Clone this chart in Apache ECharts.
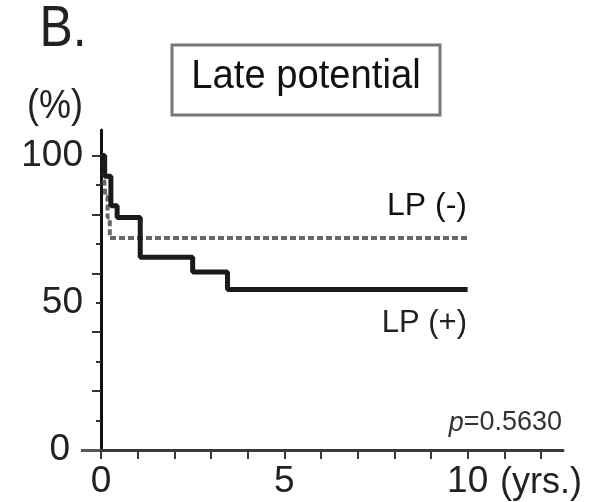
<!DOCTYPE html>
<html>
<head>
<meta charset="utf-8">
<script src="https://cdn.jsdelivr.net/npm/echarts@6/dist/echarts.min.js"></script>
<style>
html,body{margin:0;padding:0;background:#fff;}
#chart{width:595px;height:502px;}
</style>
</head>
<body>
<div id="chart"></div>
<script>
// Kaplan-Meier data
const lpPosTimes = [0, 0.1, 0.27, 0.44, 1.07, 2.5, 3.45, 10];
const lpPosSurvival = [100, 93, 83, 79, 65.5, 60.5, 54.5, 54.5];
const lpNegTimes = [0, 0.08, 0.12, 0.18, 0.24, 10];
const lpNegSurvival = [100, 93, 86, 79, 72, 72];

const xTickValues = [0, 1, 2, 3, 4, 5, 6, 7, 8, 9, 10, 11, 12];
const xLabelValues = [0, 5, 10];
const yMajorTicks = [20, 40, 60, 80, 100];
const yMinorTicks = [10, 30, 50, 70, 90];
const yLabelValues = [50, 100];
const yZero = [0];

const FONT = "'Liberation Sans', Arial, Helvetica, sans-serif";

const chart = echarts.init(document.getElementById('chart'), null, {renderer: 'canvas'});

const zip = (a, b) => a.map((v, i) => [v, b[i]]);

const yBase = {
  type: 'value', min: 0, max: 108.7, position: 'left',
  splitLine: {show: false}
};

chart.setOption({
  animation: false,
  backgroundColor: '#fff',
  grid: {left: 101, right: 32, top: 130, bottom: 52, containLabel: false},
  xAxis: {
    type: 'value', min: 0, max: 12.6,
    axisLine: {show: true, lineStyle: {color: '#3a3a3a', width: 3}},
    axisTick: {show: true, customValues: xTickValues, length: 9, lineStyle: {color: '#3a3a3a', width: 2}},
    axisLabel: {show: true, customValues: xLabelValues, margin: 13, fontSize: 37, color: '#222', fontFamily: FONT},
    splitLine: {show: false}
  },
  yAxis: [
    Object.assign({}, yBase, {
      axisLine: {show: true, lineStyle: {color: '#111', width: 3}},
      axisTick: {show: true, customValues: yMajorTicks, length: 9, lineStyle: {color: '#333', width: 2}},
      axisLabel: {show: true, customValues: yLabelValues, margin: 18, fontSize: 37, color: '#222', fontFamily: FONT}
    }),
    Object.assign({}, yBase, {
      axisLine: {show: false},
      axisTick: {show: true, customValues: yMinorTicks, length: 5, lineStyle: {color: '#333', width: 2}},
      axisLabel: {show: false}
    }),
    Object.assign({}, yBase, {
      axisLine: {show: false},
      axisTick: {show: true, customValues: yZero, length: 20, lineStyle: {color: '#555', width: 3}},
      axisLabel: {show: true, customValues: yZero, margin: 31, fontSize: 37, color: '#222', fontFamily: FONT}
    })
  ],
  graphic: [
    {type: 'rect', shape: {x: 172, y: 45, width: 268, height: 70},
     style: {fill: '#fff', stroke: '#777', lineWidth: 3}},
    {type: 'text', x: 306, y: 77, scaleX: 0.955,
     style: {text: 'Late potential', font: '40px ' + FONT, fill: '#111', align: 'center', verticalAlign: 'middle'}},
    {type: 'text', x: 63, y: 30, scaleX: 0.86,
     style: {text: 'B.', font: '58px ' + FONT, fill: '#222', align: 'center', verticalAlign: 'middle'}},
    {type: 'text', x: 55, y: 107, scaleX: 0.9,
     style: {text: '(%)', font: '40px ' + FONT, fill: '#222', align: 'center', verticalAlign: 'middle'}},
    {type: 'text', x: 467, y: 206,
     style: {text: 'LP (-)', font: '32px ' + FONT, fill: '#111', align: 'right', verticalAlign: 'middle'}},
    {type: 'text', x: 467, y: 323,
     style: {text: 'LP (+)', font: '31px ' + FONT, fill: '#222', align: 'right', verticalAlign: 'middle'}},
    {type: 'text', x: 562, y: 423,
     style: {text: '{i|p}=0.5630', rich: {i: {font: 'italic 27px ' + FONT, fill: '#333'}}, font: '27px ' + FONT, fill: '#333', align: 'right', verticalAlign: 'middle'}},
    {type: 'text', x: 500, y: 483,
     style: {text: '(yrs.)', font: '36px ' + FONT, fill: '#222', align: 'left', verticalAlign: 'middle'}}
  ],
  series: [
    {
      name: 'LP (-)', type: 'line', step: 'end', yAxisIndex: 0,
      data: zip(lpNegTimes, lpNegSurvival), showSymbol: false,
      lineStyle: {color: '#666', width: 4, type: [6, 3]}, z: 2
    },
    {
      name: 'LP (+)', type: 'line', step: 'end', yAxisIndex: 0,
      data: zip(lpPosTimes, lpPosSurvival), showSymbol: false,
      lineStyle: {color: '#1a1a1a', width: 5}, z: 3
    }
  ]
});
</script>
</body>
</html>
